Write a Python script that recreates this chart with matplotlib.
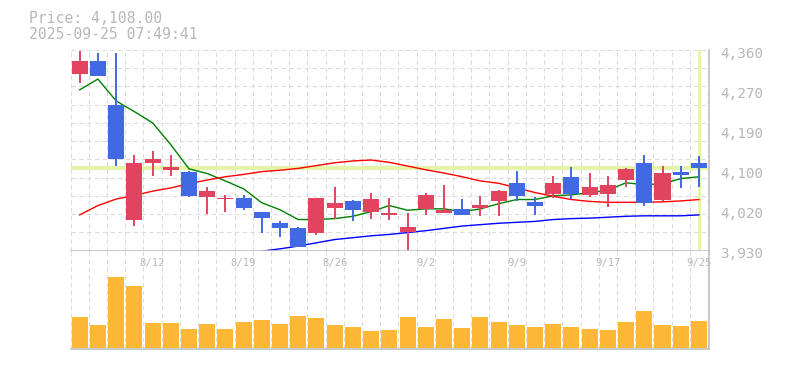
import matplotlib
matplotlib.use("Agg")
import matplotlib.pyplot as plt
import matplotlib.transforms as mtransforms
import numpy as np

# trading days shown on the chart
dates = ["8/5", "8/6", "8/7", "8/8", "8/12", "8/13", "8/14", "8/15", "8/18", "8/19",
         "8/20", "8/21", "8/22", "8/25", "8/26", "8/27", "8/28", "8/29", "9/1", "9/2",
         "9/3", "9/4", "9/5", "9/8", "9/9", "9/10", "9/11", "9/12", "9/16", "9/17",
         "9/18", "9/19", "9/22", "9/24", "9/25"]
date_labels = ["8/12", "8/19", "8/26", "9/2", "9/9", "9/17", "9/25"]

opens = [4310, 4338, 4244, 3997, 4118, 4103, 4100, 4045, 4042, 4043,
         4013, 3990, 3979, 3967, 4022, 4037, 4014, 4007, 3971, 4019,
         4012, 4020, 4021, 4037, 4076, 4035, 4051, 4089, 4049, 4051,
         4083, 4119, 4040, 4100, 4119]
highs = [4360, 4354, 4354, 4136, 4145, 4136, 4101, 4068, 4049, 4050,
         4013, 3994, 3981, 4044, 4068, 4040, 4055, 4044, 4010, 4053,
         4072, 4042, 4048, 4061, 4102, 4045, 4091, 4111, 4098, 4090,
         4108, 4136, 4113, 4113, 4133]
lows = [4291, 4305, 4113, 3984, 4091, 4090, 4045, 4009, 4014, 4017,
        3968, 3959, 3937, 3963, 3999, 3993, 3999, 3997, 3931, 4007,
        4010, 4006, 4004, 4005, 4037, 4006, 4043, 4042, 4045, 4025,
        4066, 4027, 4037, 4065, 4068]
closes = [4338, 4305, 4127, 4119, 4128, 4109, 4047, 4059, 4044, 4022,
          4000, 3978, 3937, 4044, 4033, 4017, 4042, 4012, 3982, 4050,
          4018, 4006, 4029, 4059, 4047, 4027, 4075, 4051, 4068, 4072,
          4106, 4032, 4096, 4092, 4108]

ma5 = [4276, 4299, 4252, 4229, 4205, 4158, 4106, 4096, 4080, 4063,
       4033, 4018, 3997, 3997, 3999, 4004, 4014, 4027, 4017, 4020,
       4020, 4014, 4020, 4031, 4040, 4040, 4048, 4050, 4055, 4060,
       4076, 4072, 4074, 4085, 4089]
ma25 = [4007, 4027, 4041, 4049, 4058, 4065, 4074, 4082, 4089, 4094,
        4100, 4103, 4107, 4113, 4119, 4123, 4125, 4120, 4112, 4104,
        4097, 4089, 4080, 4075, 4065, 4055, 4047, 4040, 4036, 4034,
        4034, 4034, 4035, 4037, 4040]
ma75 = [np.nan] * 10 + [3929, 3934, 3940, 3947, 3954, 3958, 3962, 3965, 3969, 3973,
                        3978, 3983, 3986, 3989, 3991, 3993, 3997, 3999, 4000, 4002,
                        4004, 4005, 4005, 4005, 4007]

volumes = [307, 227, 710, 620, 250, 250, 187, 240, 187, 260,
           280, 240, 320, 300, 230, 210, 170, 180, 310, 210,
           290, 200, 310, 260, 230, 210, 240, 210, 190, 180,
           260, 370, 230, 220, 270]

price_now = 4108
ytick_vals = [3930, 4016, 4102, 4188, 4274, 4360]
ytick_labels = ["3,930", "4,020", "4,100", "4,190", "4,270", "4,360"]

UP = "#e2445f"
DOWN = "#4169e1"
GRID = "#dcdcdc"
BORDER = "#c0c0c0"
TEXT = "#b8b8b8"
MONO = "DejaVu Sans Mono"

W, H = 785, 370
fig = plt.figure(figsize=(W / 100, H / 100), dpi=100)
left, right = 70.6, 709.5
ax = fig.add_axes([left / W, 1 - 250.7 / H, (right - left) / W, (250.7 - 50) / H])
axv = fig.add_axes([left / W, 1 - 349.3 / H, (right - left) / W, (349.3 - 250.7) / H])

x = np.arange(len(dates))
n = len(dates)
for a in (ax, axv):
    a.set_xlim(-0.5, n - 0.42)
    a.set_xticks([])
    a.set_yticks([])
    for s in ("left", "top"):
        a.spines[s].set_visible(False)
    for s in ("right", "bottom"):
        a.spines[s].set_color(BORDER)
        a.spines[s].set_linewidth(1.2)
    for k in range(n + 1):
        a.axvline(k - 0.5, color=GRID, lw=0.8, ls=(0, (4, 3)), zorder=0)

ax.set_ylim(3930, 4361.5)
axv.set_ylim(-16, 970)
for g in np.linspace(3930, 4361.5, 12)[1:]:
    ax.axhline(g, color=GRID, lw=0.8, ls=(0, (4, 3)), zorder=0)

# current price / last day markers
ax.axhline(price_now, color="#e4f5a9", lw=3, zorder=1)
ax.axvline(x[-1], color="#e4f5a9", lw=2, zorder=1)

# moving averages
ax.plot(x, ma5, color="green", lw=1, zorder=2)
ax.plot(x, ma25, color="red", lw=1, zorder=2)
ax.plot(x, ma75, color="blue", lw=1, zorder=2)

# candles
o = np.array(opens)
c = np.array(closes)
colors = [UP if cc >= oo else DOWN for oo, cc in zip(o, c)]
ax.vlines(x, lows, highs, colors=colors, lw=1.4, zorder=3)
body = np.maximum(np.abs(c - o), 2)
ax.bar(x, body, bottom=np.minimum(o, c), width=0.88, color=colors, zorder=4)

# volume
axv.bar(x, volumes, width=0.88, color="#ffb835", zorder=2)

# price labels on the right
for v, lab in zip(ytick_vals, ytick_labels):
    ax.annotate(lab, xy=(1, v), xycoords=("axes fraction", "data"),
                xytext=(10.5, -7), textcoords="offset pixels",
                ha="left", va="baseline", family=MONO, size=10.4,
                color=TEXT, annotation_clip=False)

# date labels
trans = mtransforms.blended_transform_factory(axv.transData, axv.transAxes)
for d in date_labels:
    axv.text(dates.index(d), 0.845, d, transform=trans, ha="center",
             va="baseline", family=MONO, size=7.6, color=TEXT, zorder=5)

fig.text(29.3 / W, 1 - 23 / H, "Price: 4,108.00", family=MONO, size=10.6,
         color=TEXT, va="baseline")
fig.text(29.3 / W, 1 - 38.7 / H, "2025-09-25 07:49:41", family=MONO, size=10.6,
         color=TEXT, va="baseline")

fig.savefig("out.png", dpi=100)
